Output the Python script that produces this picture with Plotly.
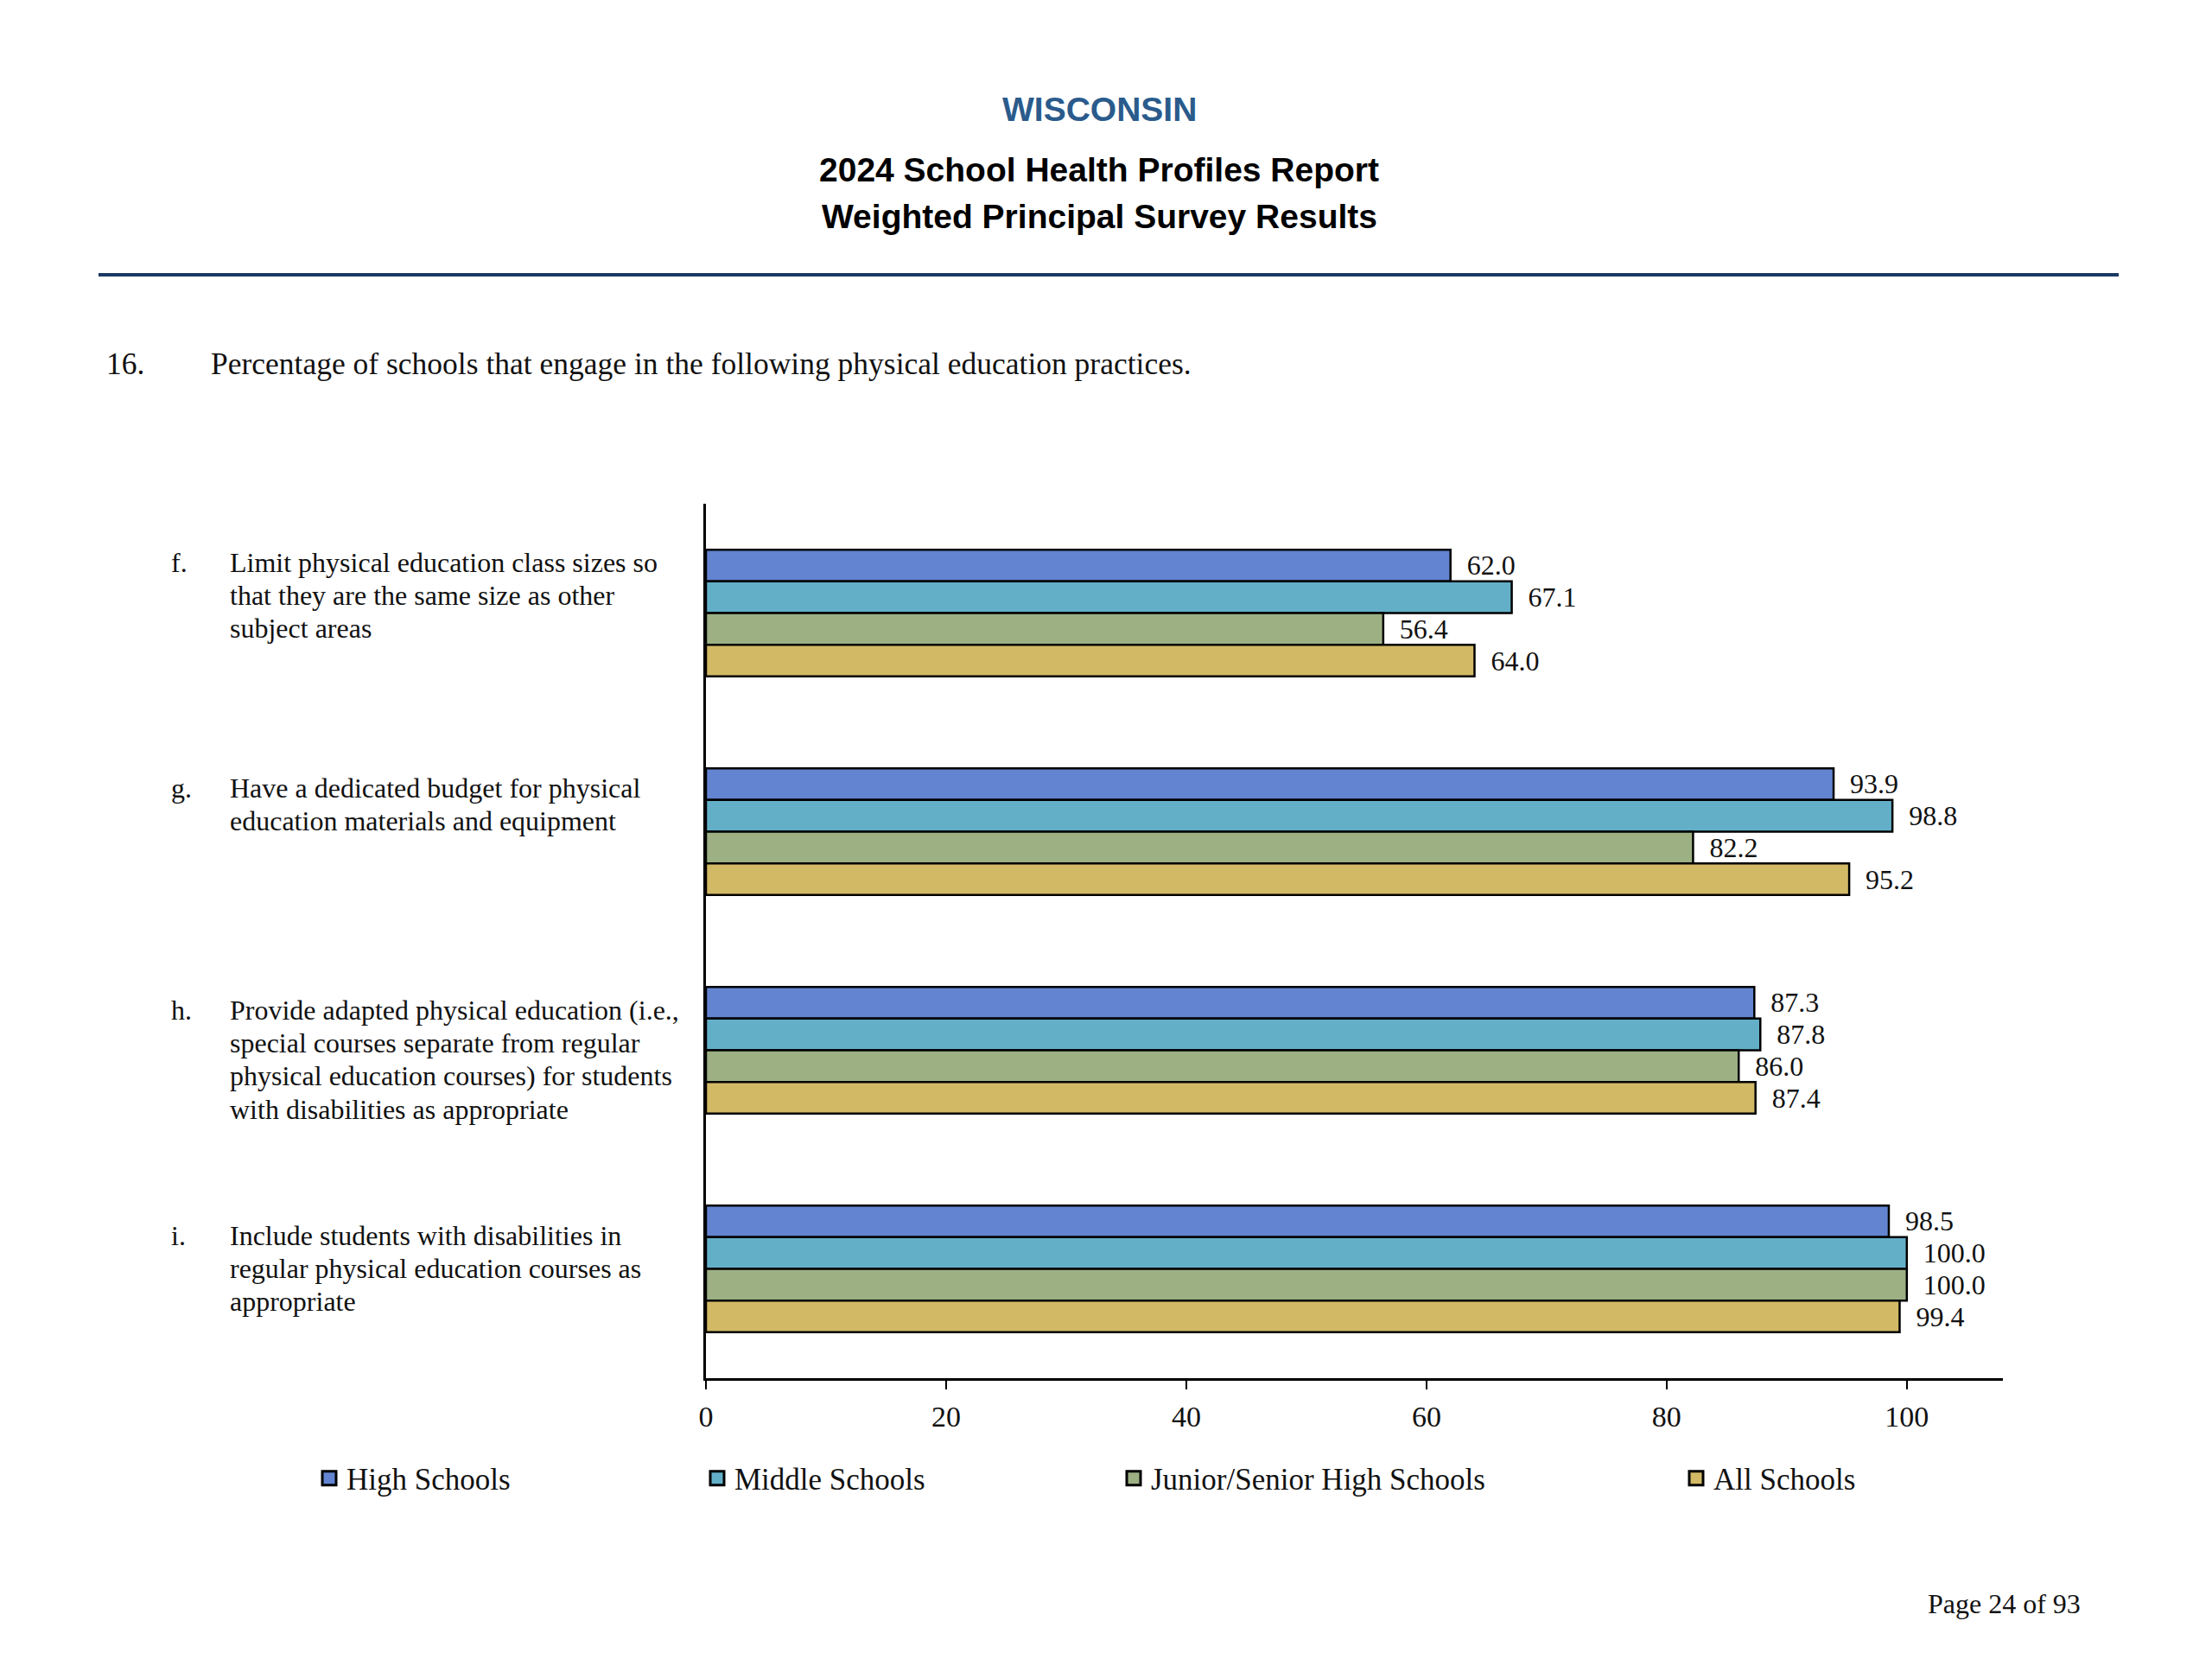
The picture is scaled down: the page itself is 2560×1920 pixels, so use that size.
import plotly.graph_objects as go

# ---------------- data ----------------
categories = ["f", "g", "h", "i"]
letters = ["f.", "g.", "h.", "i."]
label_lines = [
    ["Limit physical education class sizes so", "that they are the same size as other", "subject areas"],
    ["Have a dedicated budget for physical", "education materials and equipment"],
    ["Provide adapted physical education (i.e.,", "special courses separate from regular",
     "physical education courses) for students", "with disabilities as appropriate"],
    ["Include students with disabilities in", "regular physical education courses as", "appropriate"],
]
series_names = ["High Schools", "Middle Schools", "Junior/Senior High Schools", "All Schools"]
high_schools = [62.0, 93.9, 87.3, 98.5]
middle_schools = [67.1, 98.8, 87.8, 100.0]
junior_senior = [56.4, 82.2, 86.0, 100.0]
all_schools = [64.0, 95.2, 87.4, 99.4]
x_ticks = [0, 20, 40, 60, 80, 100]

# ---------------- style / layout ----------------
colors = ["#6384D0", "#63AFC8", "#9CB084", "#D2B966"]
W, H = 2560, 1920
L, R, T, B = 817, 2318, 583, 1595
SERIF = "Liberation Serif, Times New Roman, serif"
SANS = "Liberation Sans, Arial, sans-serif"


def px_x(px):
    return (px - L) / (R - L)


def px_y(py):
    return (B - py) / (B - T)


fig = go.Figure()
series = [high_schools, middle_schools, junior_senior, all_schools]
legend_ids = ["legend", "legend2", "legend3", "legend4"]
for name, vals, col in zip(series_names, series, colors):
    fig.add_trace(go.Bar(
        y=categories, x=vals, name=name, orientation="h", showlegend=False,
        marker=dict(color=col, line=dict(color="black", width=2.5)),
        text=vals, texttemplate="\u00a0\u00a0%{x:.1f}", textposition="outside",
        constraintext="none", cliponaxis=False,
        textfont=dict(family=SERIF, size=32, color="#111"),
    ))

# legend entries (square swatches like the reference key)
for name, col, lg in zip(series_names, colors, legend_ids):
    fig.add_trace(go.Scatter(
        x=[None], y=[None], mode="markers", name=name, legend=lg, showlegend=True,
        marker=dict(symbol="square", size=16, color=col, line=dict(color="black", width=3)),
        hoverinfo="skip",
    ))

annotations = []
# header
annotations.append(dict(text="<b>WISCONSIN</b>", x=px_x(1272), y=px_y(126), xref="paper", yref="paper",
                        showarrow=False, xanchor="center", yanchor="middle",
                        font=dict(family=SANS, size=39, color="#2A5B8C")))
annotations.append(dict(text="<b>2024 School Health Profiles Report</b>", x=px_x(1272), y=px_y(196),
                        xref="paper", yref="paper", showarrow=False, xanchor="center", yanchor="middle",
                        font=dict(family=SANS, size=39, color="black")))
annotations.append(dict(text="<b>Weighted Principal Survey Results</b>", x=px_x(1272), y=px_y(250),
                        xref="paper", yref="paper", showarrow=False, xanchor="center", yanchor="middle",
                        font=dict(family=SANS, size=39, color="black")))
annotations.append(dict(text="16.", x=px_x(121), y=px_y(421), xref="paper", yref="paper",
                        showarrow=False, xanchor="left", yanchor="middle",
                        font=dict(family=SERIF, size=35.5, color="#111")))
annotations.append(dict(text="Percentage of schools that engage in the following physical education practices.",
                        x=px_x(242), y=px_y(421), xref="paper", yref="paper",
                        showarrow=False, xanchor="left", yanchor="middle",
                        font=dict(family=SERIF, size=35.5, color="#111")))
annotations.append(dict(text="Page 24 of 93", x=px_x(2410), y=px_y(1856), xref="paper", yref="paper",
                        showarrow=False, xanchor="right", yanchor="middle",
                        font=dict(family=SERIF, size=32, color="#111")))

# category labels
first_line_shift = [59, 51, 47, 39]
line_step = 38.4
for cat, let, lines, s0 in zip(categories, letters, label_lines, first_line_shift):
    annotations.append(dict(text=let, x=px_x(196), y=cat, xref="paper", yref="y", yshift=s0,
                            showarrow=False, xanchor="left", yanchor="middle",
                            font=dict(family=SERIF, size=32, color="#111")))
    for i, ln in enumerate(lines):
        annotations.append(dict(text=ln, x=px_x(264), y=cat, xref="paper", yref="y",
                                yshift=s0 - i * line_step,
                                showarrow=False, xanchor="left", yanchor="middle",
                                font=dict(family=SERIF, size=32, color="#111")))

shapes = [dict(type="line", xref="paper", yref="paper", x0=px_x(114), x1=px_x(2452),
               y0=px_y(318), y1=px_y(318), line=dict(color="#1B3A63", width=4))]

legend_text_px = [400, 849, 1331, 1982]
legend_common = dict(orientation="h", yanchor="middle", xanchor="left", bgcolor="rgba(0,0,0,0)",
                     font=dict(family=SERIF, size=35, color="#111"), itemwidth=30)
layout_legends = {}
for lg, tx in zip(legend_ids, legend_text_px):
    layout_legends[lg] = dict(x=px_x(tx - 39), y=px_y(1711), **legend_common)

fig.update_layout(
    width=W, height=H,
    margin=dict(l=L, r=W - R, t=T, b=H - B, autoexpand=False),
    paper_bgcolor="white", plot_bgcolor="white",
    barmode="group", bargap=0.42, bargroupgap=0,
    annotations=annotations, shapes=shapes,
    xaxis=dict(range=[0, 108], tickvals=x_ticks, ticktext=[str(v) for v in x_ticks],
               showline=True, linecolor="black", linewidth=2.5, ticks="outside", ticklen=10,
               tickwidth=2, tickcolor="black", showgrid=False, zeroline=False,
               tickfont=dict(family=SERIF, size=34, color="#111"), ticklabelstandoff=2),
    yaxis=dict(categoryorder="array", categoryarray=categories, autorange="reversed",
               showline=True, linecolor="black", linewidth=2.5, showticklabels=False,
               ticks="", showgrid=False, zeroline=False),
    **layout_legends,
)

fig.write_html("out.html", config={"displayModeBar": False},
               post_script="document.body.style.margin='0';")
